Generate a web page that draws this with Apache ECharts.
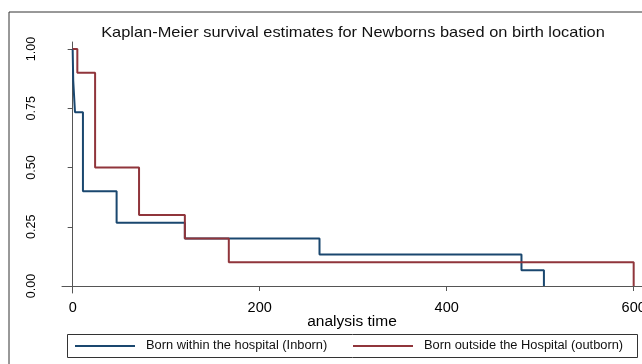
<!DOCTYPE html>
<html><head><meta charset="utf-8">
<script src="https://cdn.jsdelivr.net/npm/echarts@6/dist/echarts.min.js"></script>
<style>html,body{margin:0;padding:0;background:#fff}#c{width:642px;height:364px}</style>
</head><body><div id="c"></div>
<script>
const inbornTime = [0, 0.6, 2.5, 11, 47, 120, 264, 480, 504];
const inbornSurv = [1, 0.867, 0.733, 0.4, 0.267, 0.2, 0.133, 0.067, 0];
const outbornTime = [0, 5, 24, 71, 120, 167, 600];
const outbornSurv = [1, 0.9, 0.5, 0.3, 0.2, 0.1, 0];
const xTicks = [0, 200, 400, 600];
const yTicks = [0, 0.25, 0.5, 0.75, 1];
const seriesNames = ['Born within the hospital (Inborn)', 'Born outside the Hospital (outborn)'];
const titleText = 'Kaplan-Meier survival estimates for Newborns based on birth location';

const font = 'Liberation Sans, Arial, sans-serif';
const pair = (t, s) => t.map((v, i) => [v, s[i]]);
const chart = echarts.init(document.getElementById('c'), null, {renderer: 'canvas'});
chart.setOption({
  animation: false,
  backgroundColor: '#fff',
  grid: {left: 62, top: 42, right: 0, height: 251, containLabel: false, outerBoundsMode: 'none'},
  xAxis: {
    type: 'value', min: -11.4, max: 608.9,
    name: 'analysis time', nameLocation: 'middle', nameGap: 21, nameMoveOverlap: false,
    nameTextStyle: {fontFamily: font, fontSize: 15.5, color: '#000', padding: [0, 0, 0, 0]},
    axisLine: {show: true, lineStyle: {color: '#555', width: 1}},
    axisTick: {show: true, length: 5, customValues: xTicks, lineStyle: {color: '#555'}},
    axisLabel: {customValues: xTicks, fontFamily: font, fontSize: 14.5, color: '#000', margin: 7, hideOverlap: false},
    splitLine: {show: false}
  },
  yAxis: {
    type: 'value', min: -0.0295, max: 1.0295,
    axisLine: {show: true, lineStyle: {color: '#555', width: 1}},
    axisTick: {show: true, length: 5, customValues: yTicks, lineStyle: {color: '#555'}},
    axisLabel: {customValues: yTicks, rotate: 90, fontFamily: font, fontSize: 12.5, color: '#000', margin: 24,
      formatter: v => v.toFixed(2)},
    splitLine: {show: false}
  },
  series: [
    {name: seriesNames[0], type: 'line', step: 'end', data: pair(inbornTime, inbornSurv), showSymbol: false,
      lineStyle: {color: '#1a476f', width: 2}, itemStyle: {color: '#1a476f'}},
    {name: seriesNames[1], type: 'line', step: 'end', data: pair(outbornTime, outbornSurv), showSymbol: false,
      lineStyle: {color: '#90353b', width: 2}, itemStyle: {color: '#90353b'}}
  ],
  graphic: [
    {type: 'rect', shape: {x: 9, y: 12, width: 700, height: 400}, style: {fill: 'none', stroke: '#333', lineWidth: 1}, z: -1},
    {type: 'text', x: 353, y: 33, scaleX: 1.13, originX: 0, originY: 0, style: {text: titleText, font: '14.5px ' + font, fill: '#111', textAlign: 'center', textVerticalAlign: 'middle'}},
    {type: 'rect', shape: {x: 67.5, y: 334.5, width: 570, height: 23}, style: {fill: '#fff', stroke: '#333', lineWidth: 1}},
    {type: 'line', shape: {x1: 75, y1: 346, x2: 135, y2: 346}, style: {stroke: '#1a476f', lineWidth: 2}},
    {type: 'text', x: 146, y: 346, scaleX: 1.07, style: {text: seriesNames[0], font: '12px ' + font, fill: '#111', textVerticalAlign: 'middle'}},
    {type: 'line', shape: {x1: 353, y1: 346, x2: 413, y2: 346}, style: {stroke: '#90353b', lineWidth: 2}},
    {type: 'text', x: 424, y: 346, scaleX: 1.07, style: {text: seriesNames[1], font: '12px ' + font, fill: '#111', textVerticalAlign: 'middle'}}
  ]
});
</script></body></html>
